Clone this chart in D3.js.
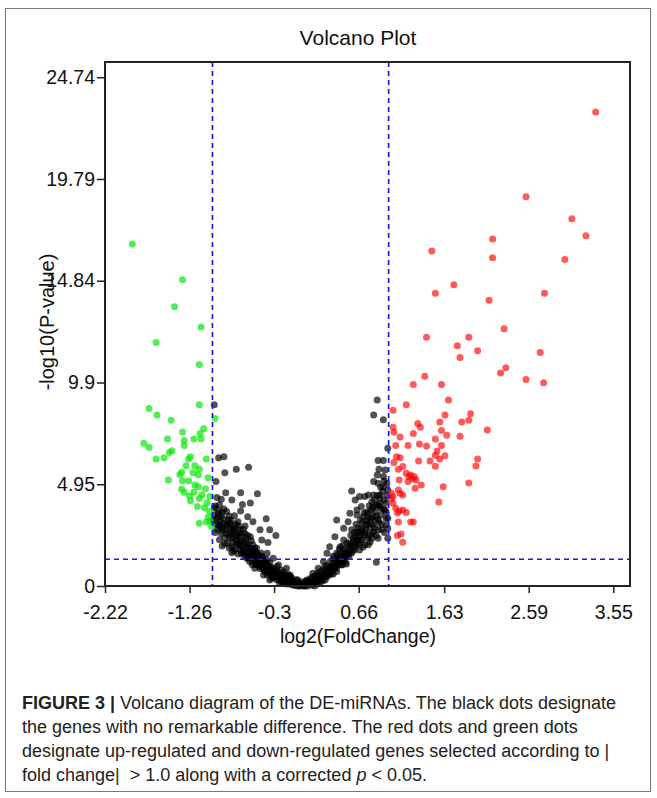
<!DOCTYPE html>
<html>
<head>
<meta charset="utf-8">
<script src="https://cdn.jsdelivr.net/npm/d3@7"></script>
<style>
  body { margin: 0; background: #fff; }
  svg { display: block; font-family: "Liberation Sans", Arial, sans-serif; }
</style>
</head>
<body>
<svg id="chart"></svg>
<script>
// axis ticks (values as printed on the figure)
const xTicks = [-2.22, -1.26, -0.3, 0.66, 1.63, 2.59, 3.55];
const yTicks = [0, 4.948, 9.896, 14.844, 19.792, 24.74];
const yTickLabels = ["0", "4.95", "9.9", "14.84", "19.79", "24.74"];

// thresholds
const fcCut = 1.0;
const pCut = 1.3; // -log10(0.05)

// up-regulated (red), [log2FC, -log10 p]
const upGenes = [
  [3.35, 23.05], [2.56, 18.93], [3.08, 17.86], [3.24, 17.03], [2.18, 16.87], [1.49, 16.29],
  [2.18, 15.96], [3.00, 15.88], [1.74, 14.65], [1.53, 14.24], [2.14, 13.90], [2.77, 14.24],
  [2.31, 12.51], [1.43, 12.10], [1.91, 12.10], [1.78, 11.68], [2.01, 11.44], [1.81, 11.11],
  [2.72, 11.35], [2.33, 10.61], [2.27, 10.36], [1.41, 10.20], [1.28, 9.80], [1.60, 9.80],
  [2.56, 10.04], [2.76, 9.88], [1.68, 9.05], [1.20, 8.81], [1.05, 8.55], [1.64, 8.31],
  [1.93, 8.38], [1.91, 8.06], [1.83, 7.98], [1.58, 7.97], [1.33, 7.90], [1.36, 7.72],
  [1.05, 7.72], [1.06, 7.48], [1.60, 7.56], [1.28, 7.41], [2.12, 7.58], [1.66, 7.33],
  [1.81, 7.28], [1.13, 7.24], [1.53, 7.15], [1.08, 6.83], [1.22, 6.83], [1.35, 6.91],
  [1.43, 6.81], [1.60, 6.83], [1.55, 6.57], [1.53, 6.34], [1.64, 6.33], [1.58, 6.17],
  [1.47, 6.08], [1.34, 6.08], [1.13, 6.24], [1.06, 6.00], [2.01, 6.17], [1.99, 5.84],
  [1.53, 5.82], [1.11, 5.68], [1.16, 5.81], [1.20, 5.48], [1.23, 5.32], [1.29, 5.32],
  [1.31, 5.16], [1.12, 5.16], [1.22, 5.08], [1.30, 4.75], [1.37, 4.91], [1.62, 4.83],
  [1.91, 5.01], [1.11, 4.67], [1.13, 4.51], [1.16, 4.43], [1.05, 4.35], [1.05, 4.02],
  [1.57, 4.09], [1.08, 3.78], [1.16, 3.70], [1.20, 3.57], [1.11, 3.11], [1.25, 3.11],
  [1.28, 3.11], [1.14, 2.53], [1.10, 2.45], [1.16, 2.13], [1.09, 6.29], [1.03, 4.51],
  [1.03, 4.23], [1.25, 5.40], [1.27, 5.22], [1.10, 3.55], [1.12, 3.65]
];

// down-regulated (green)
const downGenes = [
  [-1.91, 16.63], [-1.34, 14.89], [-1.43, 13.58], [-1.13, 12.59], [-1.64, 11.84], [-1.15, 10.77],
  [-1.15, 8.81], [-1.72, 8.63], [-1.63, 8.32], [-0.97, 8.14], [-1.47, 8.06], [-1.10, 7.65],
  [-1.34, 7.49], [-1.14, 7.41], [-1.51, 7.15], [-1.32, 7.07], [-1.21, 7.15], [-1.13, 7.15],
  [-1.78, 6.94], [-1.72, 6.75], [-1.32, 6.83], [-1.46, 6.58], [-1.49, 6.49], [-1.64, 6.17],
  [-1.55, 6.24], [-1.25, 6.29], [-1.27, 6.17], [-1.07, 6.17], [-1.30, 5.85], [-1.20, 5.85],
  [-1.15, 5.68], [-1.35, 5.53], [-1.37, 5.42], [-1.22, 5.51], [-1.16, 5.40], [-1.05, 5.26],
  [-1.50, 5.16], [-1.34, 5.12], [-1.27, 5.11], [-1.20, 4.91], [-1.16, 4.83], [-1.08, 4.73],
  [-1.35, 4.71], [-1.32, 4.56], [-1.21, 4.57], [-1.12, 4.43], [-1.03, 4.35], [-1.26, 4.38],
  [-1.25, 4.15], [-1.15, 4.25], [-1.06, 4.05], [-1.17, 3.86], [-1.09, 3.81], [-1.03, 3.62],
  [-1.05, 3.34], [-1.03, 3.16], [-1.15, 3.05], [-1.07, 3.11], [-1.01, 2.89]
];

// not significant (black), left arm
const nsLeft = [
  [-0.93, 6.24], [-0.87, 6.29], [-0.86, 5.51], [-0.73, 5.68], [-0.59, 5.78], [-0.96, 5.08],
  [-0.85, 4.54], [-0.78, 4.18], [-0.68, 4.53], [-0.49, 4.48], [-0.66, 3.96], [-0.57, 4.04],
  [-0.90, 4.22], [-0.97, 3.89], [-0.93, 3.54], [-0.84, 3.62], [-0.75, 3.41], [-0.68, 3.65],
  [-0.60, 3.37], [-0.54, 3.13], [-0.39, 3.27], [-0.91, 3.13], [-0.80, 3.05], [-0.71, 3.13],
  [-0.63, 2.92], [-0.46, 2.73], [-0.35, 2.73], [-0.28, 2.45], [-0.95, 2.76], [-0.88, 2.81],
  [-0.76, 2.64], [-0.67, 2.56], [-0.57, 2.40], [-0.44, 2.24], [-0.37, 2.11], [-0.89, 1.95],
  [-0.78, 1.91], [-0.78, 1.62], [-0.69, 2.08], [-0.61, 1.91], [-0.52, 1.83], [-0.67, 1.59],
  [-0.57, 1.51], [-0.48, 1.51], [-0.38, 1.59], [-0.31, 1.35], [-0.54, 1.18], [-0.44, 1.10],
  [-0.35, 0.94], [-0.25, 1.02], [-0.16, 0.86], [-0.52, 0.86], [-0.40, 0.70], [-0.31, 0.62],
  [-0.21, 0.54], [-0.12, 0.45], [-0.33, 0.37], [-0.23, 0.29], [-0.16, 0.13], [-0.08, 0.13],
  [-0.01, 0.02], [-0.03, 0.29], [0.03, 0.05], [0.07, 0.13], [-0.98, 8.81],
  [-0.98, 3.80], [-0.94, 3.70], [-0.89, 3.60], [-0.93, 3.36], [-0.87, 3.26], [-0.82, 3.21],
  [-0.98, 3.45], [-0.96, 3.02], [-0.91, 2.87], [-0.85, 2.73], [-0.80, 2.82], [-0.76, 2.92],
  [-0.82, 2.48], [-0.77, 2.34], [-0.72, 2.43], [-0.69, 2.73], [-0.73, 2.14], [-0.69, 2.00],
  [-0.64, 2.19], [-0.62, 2.34], [-0.65, 1.75], [-0.61, 1.61], [-0.57, 1.80], [-0.54, 2.00],
  [-0.59, 1.36], [-0.54, 1.36], [-0.49, 1.27], [-0.51, 1.65], [-0.46, 1.41], [-0.44, 1.22],
  [-0.47, 0.97], [-0.42, 0.97], [-0.38, 1.12], [-0.42, 0.54], [-0.37, 0.78], [-0.34, 0.54],
  [-0.30, 0.83], [-0.28, 0.44], [-0.26, 0.68], [-0.21, 0.34], [-0.19, 0.68], [-0.15, 0.29],
  [-0.13, 0.15], [-0.10, 0.29], [-0.07, 0.05], [-0.04, 0.00], [-0.01, 0.00], [0.03, 0.00],
  [0.05, 0.00], [-0.19, 0.49], [-0.24, 0.15], [-0.35, 0.29],
  [-0.95, 3.30], [-0.92, 3.95], [-0.90, 2.55], [-0.88, 3.05], [-0.86, 2.35], [-0.84, 2.95],
  [-0.83, 2.10], [-0.81, 3.40], [-0.79, 2.60], [-0.77, 2.10], [-0.75, 2.75], [-0.74, 1.80],
  [-0.72, 2.25], [-0.71, 1.55], [-0.70, 2.90], [-0.68, 2.40], [-0.66, 1.90], [-0.64, 1.45],
  [-0.63, 2.55], [-0.60, 2.05], [-0.59, 1.65], [-0.58, 1.20], [-0.56, 2.20], [-0.55, 1.70],
  [-0.53, 1.45], [-0.51, 1.05], [-0.50, 1.85], [-0.48, 1.20], [-0.46, 0.85], [-0.45, 1.60],
  [-0.43, 1.35], [-0.41, 0.75], [-0.40, 1.00], [-0.39, 1.30], [-0.36, 0.65], [-0.35, 1.15],
  [-0.33, 0.90], [-0.32, 0.45], [-0.29, 0.65], [-0.27, 0.95], [-0.27, 0.30], [-0.24, 0.50],
  [-0.22, 0.78], [-0.20, 0.20], [-0.18, 0.40], [-0.14, 0.55], [-0.12, 0.10], [-0.10, 0.40],
  [-0.06, 0.22], [-0.05, 0.10], [-0.02, 0.15], [0.01, 0.08],
  [-0.99, 3.20], [-0.97, 2.60], [-0.95, 4.30], [-0.93, 2.95], [-0.92, 2.25], [-0.90, 3.40],
  [-0.89, 2.70], [-0.87, 3.75], [-0.86, 2.05], [-0.84, 2.55], [-0.83, 3.00], [-0.81, 1.85],
  [-0.80, 2.35], [-0.79, 3.20], [-0.77, 2.75], [-0.76, 1.70], [-0.74, 2.45], [-0.73, 3.00],
  [-0.71, 2.00], [-0.70, 2.55], [-0.68, 1.75], [-0.67, 2.20], [-0.65, 2.75], [-0.64, 1.60],
  [-0.62, 2.05], [-0.61, 1.35], [-0.60, 2.45], [-0.58, 1.85], [-0.56, 1.55], [-0.55, 1.05],
  [-0.53, 1.75], [-0.52, 1.30], [-0.50, 1.05], [-0.49, 1.55], [-0.47, 1.20], [-0.45, 0.95],
  [-0.44, 1.45], [-0.42, 0.80], [-0.40, 1.15], [-0.38, 0.55], [-0.37, 0.95], [-0.35, 0.75],
  [-0.32, 0.65], [-0.30, 0.40], [-0.28, 0.75], [-0.26, 0.45], [-0.23, 0.60], [-0.21, 0.20],
  [-0.19, 0.30], [-0.17, 0.55], [-0.15, 0.10], [-0.11, 0.25], [-0.09, 0.05], [-0.05, 0.30]
];

// not significant (black), right arm
const nsRight = [
  [0.87, 9.05], [0.83, 8.32], [0.94, 8.08], [0.99, 6.70], [0.88, 6.10], [0.94, 6.10],
  [0.89, 5.68], [0.96, 5.64], [0.87, 5.40], [0.94, 5.32], [0.83, 5.08], [0.88, 5.00],
  [0.94, 4.83], [0.99, 4.67], [0.58, 4.62], [0.77, 4.43], [0.83, 4.43], [0.90, 4.43],
  [0.67, 4.35], [0.73, 4.35], [0.62, 4.18], [0.81, 4.10], [0.90, 4.02], [0.83, 3.86],
  [0.69, 3.86], [0.77, 3.54], [0.91, 3.78], [0.56, 3.54], [0.64, 3.45], [0.64, 3.70],
  [0.82, 3.37], [0.54, 3.13], [0.41, 3.21], [0.75, 3.21], [0.88, 3.25], [0.99, 3.29],
  [0.69, 2.81], [0.58, 2.73], [0.49, 2.81], [0.64, 2.64], [0.73, 2.48], [0.81, 2.32],
  [0.88, 2.32], [0.99, 2.32], [0.39, 2.40], [0.49, 2.24], [0.56, 2.08], [0.77, 2.00],
  [0.67, 1.75], [0.33, 1.91], [0.45, 1.91], [0.30, 1.59], [0.41, 1.59], [0.52, 1.43],
  [0.86, 1.15], [0.26, 1.18], [0.37, 1.18], [0.47, 1.02], [0.20, 0.86], [0.30, 0.78],
  [0.41, 0.70], [0.14, 0.62], [0.24, 0.54], [0.07, 0.29], [0.16, 0.29], [-0.01, 0.05],
  [-0.08, 0.21], [-0.12, 0.54], [0.49, 1.59], [0.41, 1.27], [0.35, 0.94], [0.22, 0.45],
  [0.14, 0.29],
  [0.08, 0.00], [0.11, 0.15], [0.13, 0.05], [0.17, 0.19], [0.20, 0.34], [0.24, 0.39],
  [0.27, 0.58], [0.31, 0.58], [0.33, 0.88], [0.37, 0.97], [0.40, 1.02], [0.42, 1.17],
  [0.45, 1.36], [0.48, 1.27], [0.50, 1.46], [0.53, 1.65], [0.55, 1.80], [0.58, 1.95],
  [0.62, 2.09], [0.60, 2.34], [0.64, 2.24], [0.67, 2.43], [0.70, 2.24], [0.65, 2.82],
  [0.70, 3.07], [0.74, 2.97], [0.79, 2.82], [0.82, 2.97], [0.77, 3.31], [0.80, 3.70],
  [0.85, 3.60], [0.87, 3.94], [0.90, 4.28], [0.95, 4.18], [0.97, 4.04], [0.96, 3.70],
  [0.91, 3.45], [0.97, 2.97], [0.83, 2.63], [0.88, 2.73], [0.73, 2.00], [0.79, 2.14],
  [0.52, 1.07], [0.37, 0.58], [0.28, 0.29], [0.22, 0.15], [0.16, 0.00],
  [0.04, 0.10], [0.06, 0.22], [0.10, 0.30], [0.12, 0.10], [0.15, 0.45], [0.18, 0.25],
  [0.19, 0.60], [0.22, 0.70], [0.23, 0.35], [0.26, 0.85], [0.28, 0.50], [0.29, 1.00],
  [0.32, 0.75], [0.34, 1.20], [0.35, 0.60], [0.38, 1.35], [0.39, 0.85], [0.42, 1.50],
  [0.43, 1.05], [0.44, 1.80], [0.46, 1.25], [0.48, 1.95], [0.50, 1.60], [0.51, 1.15],
  [0.53, 2.10], [0.55, 1.45], [0.57, 2.45], [0.59, 1.70], [0.61, 2.60], [0.62, 1.90],
  [0.63, 3.00], [0.66, 2.05], [0.68, 3.20], [0.69, 2.55], [0.71, 1.90], [0.72, 3.55],
  [0.74, 2.75], [0.76, 2.35], [0.78, 3.90], [0.79, 3.05], [0.81, 2.55], [0.84, 4.20],
  [0.85, 3.20], [0.86, 2.45], [0.89, 3.90], [0.92, 3.00], [0.93, 4.60], [0.95, 2.60],
  [0.97, 3.60], [0.98, 5.00],
  [0.02, 0.20], [0.05, 0.05], [0.09, 0.18], [0.12, 0.40], [0.14, 0.15], [0.17, 0.50],
  [0.19, 0.10], [0.21, 0.55], [0.25, 0.25], [0.27, 0.75], [0.30, 0.45], [0.31, 0.95],
  [0.33, 0.55], [0.36, 0.80], [0.37, 1.45], [0.40, 1.20], [0.41, 0.90], [0.43, 1.35],
  [0.46, 1.60], [0.47, 1.05], [0.49, 1.35], [0.51, 1.80], [0.54, 1.55], [0.56, 2.00],
  [0.58, 1.60], [0.60, 2.20], [0.61, 1.75], [0.63, 2.40], [0.65, 2.00], [0.66, 2.60],
  [0.68, 2.25], [0.70, 2.70], [0.71, 3.35], [0.73, 2.60], [0.75, 3.60], [0.76, 3.00],
  [0.78, 2.45], [0.80, 3.30], [0.82, 3.80], [0.84, 2.85], [0.86, 3.40], [0.87, 4.40],
  [0.89, 3.10], [0.91, 4.80], [0.92, 2.75], [0.94, 3.75], [0.95, 5.10], [0.97, 3.30],
  [0.98, 4.40], [0.99, 2.80]
];

const captionLines = [
  "the genes with no remarkable difference. The red dots and green dots",
  "designate up-regulated and down-regulated genes selected according to |"
];

const W = 657, H = 798;
const plot = { left: 105, right: 630, top: 62, bottom: 586 };

const svg = d3.select("#chart").attr("width", W).attr("height", H);

svg.append("rect").attr("width", W).attr("height", H).attr("fill", "#fff");

// figure frame
svg.append("rect")
  .attr("x", 5.5).attr("y", 8.5)
  .attr("width", 645).attr("height", 783)
  .attr("fill", "none")
  .attr("stroke", "#777")
  .attr("stroke-width", 1);

const x = d3.scaleLinear().domain([-2.22, 3.74]).range([plot.left, plot.right]);
const y = d3.scaleLinear().domain([0, 25.48]).range([plot.bottom, plot.top]);

// title
svg.append("text")
  .attr("x", 358).attr("y", 45)
  .attr("text-anchor", "middle")
  .style("font-size", "21px")
  .attr("fill", "#111")
  .text("Volcano Plot");

// points
const dots = svg.append("g");
function drawDots(data, color, op) {
  dots.append("g")
    .selectAll("circle")
    .data(data)
    .join("circle")
    .attr("cx", d => x(d[0]))
    .attr("cy", d => y(d[1]))
    .attr("r", 3.5)
    .attr("fill", color)
    .attr("fill-opacity", op);
}
drawDots(nsLeft.concat(nsRight), "#000", 0.68);
drawDots(downGenes, "#00e800", 0.68);
drawDots(upGenes, "#ff0000", 0.65);

// threshold lines
const dash = "5,4";
svg.append("line")
  .attr("x1", x(-fcCut)).attr("x2", x(-fcCut))
  .attr("y1", plot.top).attr("y2", plot.bottom)
  .attr("stroke", "#1a1aee").attr("stroke-width", 1.7).attr("stroke-dasharray", dash);
svg.append("line")
  .attr("x1", x(fcCut)).attr("x2", x(fcCut))
  .attr("y1", plot.top).attr("y2", plot.bottom)
  .attr("stroke", "#1a1aee").attr("stroke-width", 1.7).attr("stroke-dasharray", dash);
svg.append("line")
  .attr("x1", plot.left).attr("x2", plot.right)
  .attr("y1", y(pCut)).attr("y2", y(pCut))
  .attr("stroke", "#1a1aee").attr("stroke-width", 1.7).attr("stroke-dasharray", dash);

// plot box
svg.append("rect")
  .attr("x", plot.left).attr("y", plot.top)
  .attr("width", plot.right - plot.left).attr("height", plot.bottom - plot.top)
  .attr("fill", "none").attr("stroke", "#222").attr("stroke-width", 2);

// axes
const xAxis = svg.append("g")
  .attr("transform", `translate(0,${plot.bottom})`)
  .call(d3.axisBottom(x).tickValues(xTicks).tickSize(7).tickPadding(12)
    .tickFormat(d => String(d)));
const yAxis = svg.append("g")
  .attr("transform", `translate(${plot.left},0)`)
  .call(d3.axisLeft(y).tickValues(yTicks).tickSize(8).tickPadding(2)
    .tickFormat((d, i) => yTickLabels[i]));

[xAxis, yAxis].forEach(g => {
  g.select(".domain").remove();
  g.selectAll(".tick line").attr("stroke", "#222").attr("stroke-width", 1.5);
  g.selectAll(".tick text")
    .attr("fill", "#111")
    .style("font-size", "19.5px")
    .style("font-family", "Liberation Sans, Arial, sans-serif");
});

// axis labels
svg.append("text")
  .attr("x", 358).attr("y", 643)
  .attr("text-anchor", "middle")
  .style("font-size", "19.5px")
  .attr("fill", "#111")
  .text("log2(FoldChange)");

svg.append("text")
  .attr("transform", `translate(54,322) rotate(-90)`)
  .attr("text-anchor", "middle")
  .style("font-size", "20px")
  .attr("fill", "#111")
  .text("-log10(P-value)");

// caption
const cap = svg.append("g").attr("fill", "#222").style("font-size", "18px");
const line1 = cap.append("text").attr("x", 22).attr("y", 709);
line1.append("tspan").style("font-weight", "bold").text("FIGURE 3 | ");
line1.append("tspan").text("Volcano diagram of the DE-miRNAs. The black dots designate");

captionLines.forEach((t, i) => {
  cap.append("text").attr("x", 22).attr("y", 733 + i * 24).text(t);
});

const line4 = cap.append("text").attr("x", 22).attr("y", 781);
line4.append("tspan").text("fold change|\u00a0\u00a0> 1.0 along with a corrected ");
line4.append("tspan").style("font-style", "italic").text("p");
line4.append("tspan").text(" < 0.05.");
</script>
</body>
</html>
